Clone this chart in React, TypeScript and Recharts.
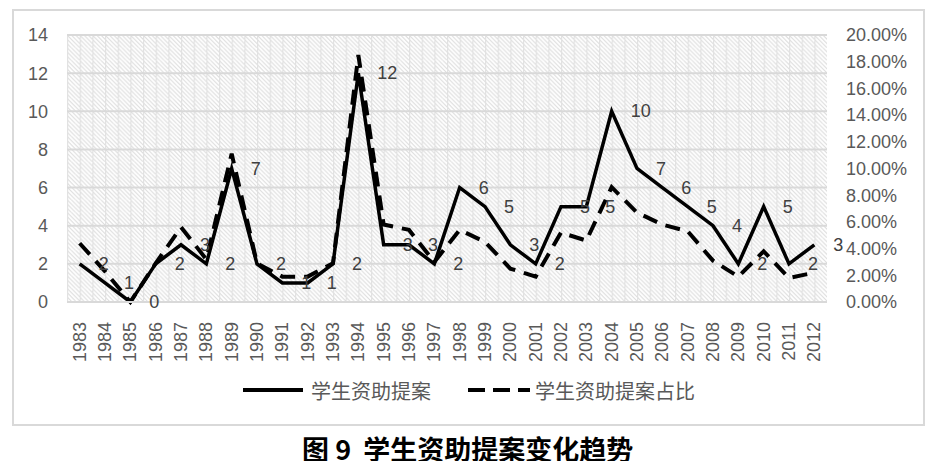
import { LineChart, Line, XAxis, YAxis, CartesianGrid } from "recharts";

// 年份
const years = [
  "1983", "1984", "1985", "1986", "1987", "1988", "1989", "1990", "1991", "1992",
  "1993", "1994", "1995", "1996", "1997", "1998", "1999", "2000", "2001", "2002",
  "2003", "2004", "2005", "2006", "2007", "2008", "2009", "2010", "2011", "2012",
];

// 学生资助提案 (件)
const proposals = [2, 1, 0, 2, 3, 2, 7, 2, 1, 1, 2, 12, 3, 3, 2, 6, 5, 3, 2, 5, 5, 10, 7, 6, 5, 4, 2, 5, 2, 3];

// 学生资助提案占比 (%)
const shares = [
  4.4, 2.3, 0, 2.9, 5.6, 3.2, 11.1, 2.9, 1.9, 1.9, 2.9, 18.5, 5.8, 5.4, 3.0, 5.4, 4.5, 2.5, 1.9, 5.2,
  4.6, 8.6, 6.7, 5.8, 5.3, 3.1, 1.9, 3.8, 1.8, 2.2,
];

const leftTicks = [0, 2, 4, 6, 8, 10, 12, 14];
const rightTicks = [0, 2, 4, 6, 8, 10, 12, 14, 16, 18, 20];

const seriesNames = ["学生资助提案", "学生资助提案占比"];
const title = "图 9  学生资助提案变化趋势";

const data = years.map((year, i) => ({
  year,
  count: proposals[i],
  share: shares[i],
}));

const AXIS_FONT = "'Liberation Sans', Arial, sans-serif";
const CJK_FONT = "'Noto Sans CJK SC', sans-serif";
const GREY = "#595959";

const XTick = (props: any) => {
  const { x, y, payload } = props;
  const ty = y + 12;
  return (
    <text
      x={x}
      y={ty}
      transform={`rotate(-90 ${x} ${ty})`}
      textAnchor="end"
      dominantBaseline="central"
      fill={GREY}
      fontSize={18}
      fontFamily={AXIS_FONT}
    >
      {payload.value}
    </text>
  );
};

const renderCountLabel = (props: any) => {
  const { x, y, value, index } = props;
  return (
    <text
      key={`lbl-${index}`}
      x={x + 19}
      y={y}
      dominantBaseline="central"
      fill="#404040"
      fontSize={18}
      fontFamily={AXIS_FONT}
    >
      {value}
    </text>
  );
};

export default function App() {
  const tile = 760 / 60;
  const step = tile / 3;
  return (
    <div style={{ position: "relative", width: 936, height: 469, margin: -8, background: "#fff" }}>
      <div
        style={{
          position: "absolute",
          left: 12,
          top: 9,
          width: 909,
          height: 413,
          border: "2px solid #d9d9d9",
        }}
      />
      <div style={{ position: "absolute", left: 0, top: 0 }}>
        <LineChart
          width={936}
          height={469}
          data={data}
          margin={{ top: 35, right: 0, bottom: 87, left: 0 }}
        >
          <defs>
            <pattern id="hatch" patternUnits="userSpaceOnUse" x={67} y={35} width={tile} height={tile}>
              <rect width={tile} height={tile} fill="#fff" />
              {[-3, -2, -1, 0, 1, 2].map((k) => (
                <line
                  key={k}
                  x1={k * step}
                  y1={0}
                  x2={k * step + tile}
                  y2={tile}
                  stroke="#dadada"
                  strokeWidth={1}
                />
              ))}
              <line x1={0.6} y1={0} x2={0.6} y2={tile} stroke="#e2e2e2" strokeWidth={1.2} />
            </pattern>
          </defs>
          <CartesianGrid
            vertical={false}
            stroke="#d9d9d9"
            strokeWidth={2}
            fill="url(#hatch)"
            fillOpacity={1}
            yAxisId="left"
          />
          <XAxis
            dataKey="year"
            interval={0}
            padding={{ left: tile, right: tile }}
            tick={<XTick />}
            tickLine={false}
            axisLine={{ stroke: "#d9d9d9", strokeWidth: 2 }}
            height={80}
          />
          <YAxis
            yAxisId="left"
            width={67}
            domain={[0, 14]}
            ticks={leftTicks}
            axisLine={false}
            tickLine={false}
            tickSize={0}
            tickMargin={19}
            tick={{ fill: GREY, fontSize: 18, fontFamily: AXIS_FONT }}
          />
          <YAxis
            yAxisId="right"
            orientation="right"
            width={109}
            domain={[0, 20]}
            ticks={rightTicks}
            axisLine={false}
            tickLine={false}
            tickSize={0}
            tickMargin={19}
            tickFormatter={(v: number) => `${v.toFixed(2)}%`}
            tick={{ fill: GREY, fontSize: 18, fontFamily: AXIS_FONT }}
          />
          <Line
            yAxisId="left"
            type="linear"
            dataKey="count"
            name={seriesNames[0]}
            stroke="#000"
            strokeWidth={3.5}
            dot={false}
            isAnimationActive={false}
            label={renderCountLabel}
          />
          <Line
            yAxisId="right"
            type="linear"
            dataKey="share"
            name={seriesNames[1]}
            stroke="#000"
            strokeWidth={4}
            strokeDasharray="15 9"
            dot={false}
            isAnimationActive={false}
          />
        </LineChart>
      </div>
      <svg style={{ position: "absolute", left: 0, top: 375 }} width={936} height={32}>
        <line x1={243} y1={15} x2={303} y2={15} stroke="#000" strokeWidth={4} />
        <text x={311} y={15} dominantBaseline="central" fill={GREY} fontSize={20} fontFamily={CJK_FONT}>
          {seriesNames[0]}
        </text>
        <line x1={468} y1={15} x2={530} y2={15} stroke="#000" strokeWidth={4} strokeDasharray="17 8" />
        <text x={535} y={15} dominantBaseline="central" fill={GREY} fontSize={20} fontFamily={CJK_FONT}>
          {seriesNames[1]}
        </text>
      </svg>
      <div
        style={{
          position: "absolute",
          left: 302,
          top: 431,
          fontFamily: CJK_FONT,
          fontWeight: 700,
          fontSize: 27,
          lineHeight: "36px",
          whiteSpace: "pre",
          color: "#000",
        }}
      >
        {title}
      </div>
    </div>
  );
}
